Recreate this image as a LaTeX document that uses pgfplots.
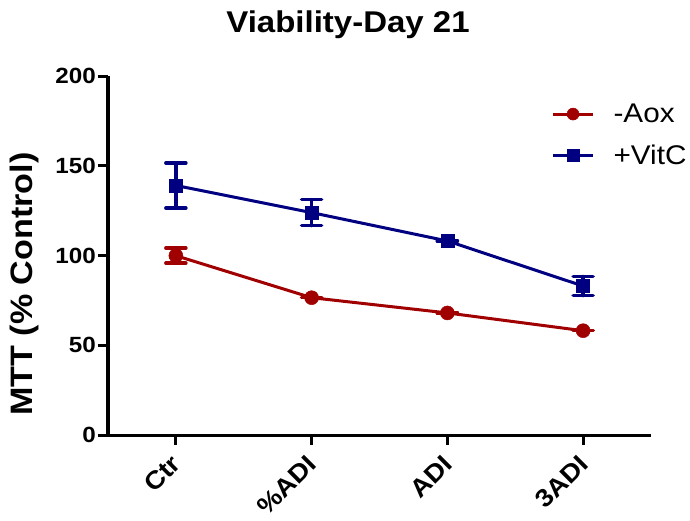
\documentclass[border=0pt]{standalone}
\usepackage{fontspec}
\setmainfont{Liberation Sans}[FakeStretch=1.1]
\usepackage{pgfplots}
\pgfplotsset{compat=1.18}
\definecolor{dred}{RGB}{160,0,0}
\definecolor{dblue}{RGB}{0,0,128}
\begin{document}
\begin{tikzpicture}
\useasboundingbox (0,0) rectangle (690bp,-521bp);
\begin{axis}[
  at={(108bp,-435bp)}, anchor=south west,
  scale only axis, width=543bp, height=359bp,
  xmin=-0.5, xmax=3.5, ymin=0, ymax=200,
  clip=false,
  axis lines=left,
  axis line style={-, line width=3bp, black},
  xtick={0,1,2,3}, xticklabels={Ctr,\%ADI,ADI,3ADI},
  ytick={0,50,100,150,200},
  tick align=outside, major tick length=10bp,
  tick style={line width=3bp, black},
  /pgf/number format/assume math mode=true,
  yticklabel style={inner sep=2bp, font=\bfseries\fontsize{22bp}{22bp}\selectfont},
  xticklabel style={xshift=2bp, yshift=-13bp, rotate=45, anchor=east, inner sep=2bp,
    font=\bfseries\fontsize{25bp}{25bp}\selectfont},
  ylabel={MTT (\% Control)},
  ylabel style={at={(axis description cs:-0.153,0.42)}, anchor=center, font=\bfseries\fontsize{31bp}{31bp}\selectfont},
  title={Viability-Day 21},
  title style={at={(axis description cs:0.442,1.125)}, anchor=center, font=\bfseries\fontsize{30bp}{30bp}\selectfont},
  legend style={draw=none, fill=none, at={(axis description cs:0.8165,0.928)}, anchor=north west,
    font=\fontsize{27bp}{27bp}\selectfont, row sep=17bp, inner sep=0pt},
  legend cell align=left,
  legend image code/.code={
    \draw[#1, mark repeat=2, mark phase=2, mark size=6bp] plot coordinates {(0bp,0bp) (20bp,0bp) (40bp,0bp)};
    \path (57bp,0bp);
  },
]
\addplot[dred, line width=3bp, mark=*, mark size=7bp, mark options={solid, line width=0.5bp},
  error bars/.cd, y dir=both, y explicit,
  error bar style={line width=3.5bp, dred, line cap=round},
  error mark options={rotate=90, mark size=10bp, line width=3.5bp, dred, line cap=round}]
  coordinates {
  (0,99.9) +- (0,4.2)
  (1,76.5) +- (0,0)
  (2,68.0) +- (0,0)
  (3,58.1) +- (0,0)
};
\addlegendentry{-Aox}
\addplot[dblue, line width=3bp, mark=square*, mark size=6.5bp, mark options={solid, line width=0.5bp},
  error bars/.cd, y dir=both, y explicit,
  error bar style={line width=3.5bp, dblue, line cap=round},
  error mark options={rotate=90, mark size=10bp, line width=3.5bp, dblue, line cap=round}]
  coordinates {
  (0,139.0) +- (0,12.6)
  (1,123.9) +- (0,7.3)
  (2,108.1) +- (0,0)
  (3,83.0) +- (0,5.3)
};
\addlegendentry{+VitC}
\end{axis}
\end{tikzpicture}
\end{document}
